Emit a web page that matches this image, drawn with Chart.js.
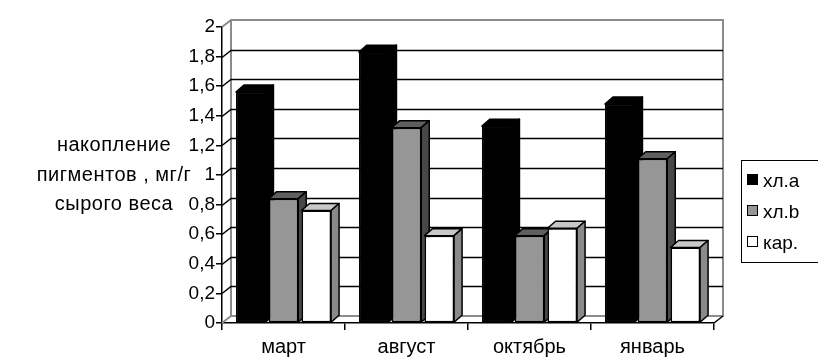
<!DOCTYPE html>
<html>
<head>
<meta charset="utf-8">
<script src="https://cdn.jsdelivr.net/npm/chart.js@4"></script>
<style>
  html, body { margin:0; padding:0; background:#fff; }
  #wrap { position:relative; width:818px; height:358px; overflow:hidden; }
  #legend { position:absolute; left:741px; top:160px; width:100px; height:103px;
    border:1.5px solid #000; box-sizing:border-box; font:19px "Liberation Sans", Arial, sans-serif; }
  #legend .it { position:absolute; left:5px; height:22px; line-height:22px; white-space:nowrap; }
  #legend .sw { display:inline-block; width:9px; height:9px; border:1px solid #000; margin-right:5px; vertical-align:2px; }
</style>
</head>
<body>
<div id="wrap">
  <canvas id="c" width="818" height="358"></canvas>
  <div id="legend"></div>
</div>
<script>
const months = ['март', 'август', 'октябрь', 'январь'];
const seriesNames = ['хл.a', 'хл.b', 'кар.'];
const chlA = [1.56, 1.83, 1.33, 1.48];
const chlB = [0.84, 1.32, 0.59, 1.11];
const car  = [0.76, 0.59, 0.64, 0.51];
const yTicks = [0, 0.2, 0.4, 0.6, 0.8, 1, 1.2, 1.4, 1.6, 1.8, 2];
const yTitle = ['накопление', 'пигментов , мг/г', 'сырого веса'];

const FONT = '"Liberation Sans", Arial, sans-serif';
// front, top, side colours for each series
const faces = [
  ['#000000', '#000000', '#000000'],
  ['#969696', '#5f5f5f', '#474747'],
  ['#ffffff', '#c8c8c8', '#8a8a8a']
];
const WDX = 9, WDY = -7;   // depth of the walls
const BDX = 8, BDY = -7;   // depth of the bars

const box3d = {
  id: 'box3d',
  beforeDatasetsDraw(chart) {
    const {ctx, chartArea: a, scales: {y}} = chart;
    ctx.save();
    // walls
    ctx.strokeStyle = '#8c8c8c';
    ctx.lineWidth = 2;
    ctx.beginPath();
    ctx.moveTo(a.left, a.top); ctx.lineTo(a.left + WDX, a.top + WDY);
    ctx.lineTo(a.right + WDX, a.top + WDY); ctx.lineTo(a.right + WDX, a.bottom + WDY);
    ctx.lineTo(a.left + WDX, a.bottom + WDY); ctx.lineTo(a.left + WDX, a.top + WDY);
    ctx.stroke();
    ctx.beginPath();
    ctx.moveTo(a.left + WDX, a.bottom + WDY); ctx.lineTo(a.left, a.bottom);
    ctx.stroke();
    // gridlines on the back wall and left wall
    ctx.strokeStyle = '#000';
    ctx.lineWidth = 1.5;
    yTicks.forEach(v => {
      if (v === 0 || v === 2) return;
      const py = Math.round(y.getPixelForValue(v)) + 0.5;
      ctx.beginPath();
      ctx.moveTo(a.left, py);
      ctx.lineTo(a.left + WDX, py + WDY);
      ctx.lineTo(a.right + WDX, py + WDY);
      ctx.stroke();
    });
    // right floor edge
    ctx.beginPath();
    ctx.moveTo(a.right, a.bottom); ctx.lineTo(a.right + WDX, a.bottom + WDY);
    ctx.stroke();
    ctx.restore();
  },
  afterDatasetsDraw(chart) {
    // redraw bars left to right so each front hides the previous bar's side
    const {ctx} = chart;
    ctx.save();
    ctx.strokeStyle = '#000';
    ctx.lineWidth = 1.5;
    ctx.lineJoin = 'round';
    for (let c = 0; c < months.length; c++) {
      for (let i = 0; i < series.length; i++) {
        const bar = chart.getDatasetMeta(i).data[c];
        const f = faces[i];
        const p = bar.getProps(['x', 'y', 'base', 'width'], true);
        const l = p.x - p.width / 2, r = p.x + p.width / 2;
        bar.draw(ctx);
        ctx.fillStyle = f[1];
        ctx.beginPath();
        ctx.moveTo(l, p.y); ctx.lineTo(l + BDX, p.y + BDY);
        ctx.lineTo(r + BDX, p.y + BDY); ctx.lineTo(r, p.y); ctx.closePath();
        ctx.fill(); ctx.stroke();
        ctx.fillStyle = f[2];
        ctx.beginPath();
        ctx.moveTo(r, p.y); ctx.lineTo(r + BDX, p.y + BDY);
        ctx.lineTo(r + BDX, p.base + BDY); ctx.lineTo(r, p.base); ctx.closePath();
        ctx.fill(); ctx.stroke();
      }
    }
    ctx.restore();
  },
  afterDraw(chart) {
    const {ctx} = chart;
    ctx.save();
    ctx.fillStyle = '#000';
    ctx.font = '20px ' + FONT;
    ctx.letterSpacing = '0.5px';
    ctx.textAlign = 'center';
    ctx.textBaseline = 'middle';
    const ys = [1.2, 1, 0.8].map(v => chart.scales.y.getPixelForValue(v));
    yTitle.forEach((t, i) => ctx.fillText(t, 114, ys[i]));
    ctx.restore();
  }
};

const series = [chlA, chlB, car];
new Chart(document.getElementById('c'), {
  type: 'bar',
  data: {
    labels: months,
    datasets: series.map((d, i) => ({
      label: seriesNames[i],
      data: d,
      backgroundColor: faces[i][0],
      borderColor: '#000',
      borderWidth: 1.5,
      borderSkipped: false
    }))
  },
  options: {
    responsive: false,
    animation: false,
    layout: { padding: { left: 0, top: 27, right: 104, bottom: 0 } },
    plugins: { legend: { display: false }, tooltip: { enabled: false } },
    scales: {
      x: {
        categoryPercentage: 0.66,
        barPercentage: 1.0,
        grid: { offset: true, drawOnChartArea: false, drawTicks: true, tickLength: 7, color: '#000', lineWidth: 1.5 },
        border: { color: '#000', width: 1.5 },
        ticks: { color: '#000', font: { family: FONT, size: 20 }, padding: 5 },
        afterFit: s => { s.height = 35; }
      },
      y: {
        min: 0, max: 2,
        afterBuildTicks: s => { s.ticks = yTicks.map(v => ({ value: v })); },
        grid: { drawOnChartArea: false, drawTicks: true, tickLength: 6, color: '#000', lineWidth: 1.5 },
        border: { color: '#000', width: 1.5 },
        ticks: { color: '#000', font: { family: FONT, size: 19 }, padding: 1,
          callback: v => String(v).replace('.', ',') },
        afterFit: s => { s.width = 222; }
      }
    }
  },
  plugins: [box3d]
});

const lg = document.getElementById('legend');
seriesNames.forEach((n, i) => {
  const it = document.createElement('div');
  it.className = 'it';
  it.style.top = (9 + i * 31) + 'px';
  it.innerHTML = '<span class="sw" style="background:' + faces[i][0] + '"></span>' + n;
  lg.appendChild(it);
});
</script>
</body>
</html>
